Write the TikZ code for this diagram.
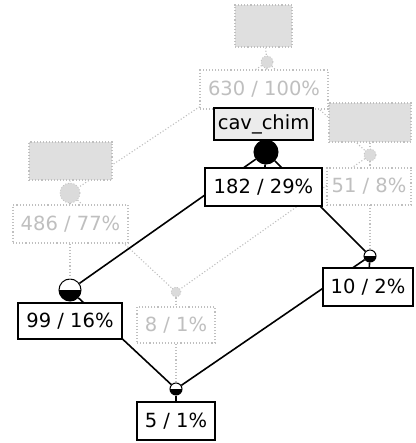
\documentclass[tikz,border=0pt]{standalone}
\usepackage{fontspec}
\setmainfont{DejaVu Sans}
\usepackage{tikz}

\begin{document}
\begin{tikzpicture}[x=1pt, y=-1pt,
  extent/.style={draw=black, line width=1.5pt, fill=white, inner sep=0pt, font=\fontsize{19.5}{21}\selectfont},
  faded/.style={draw=gray!50, dotted, line width=1.1pt, fill=white, text=gray!50, inner sep=0pt, font=\fontsize{19.5}{21}\selectfont},
  attrib/.style={draw=gray!50, dotted, line width=1.1pt, fill=gray!25, inner sep=0pt},
  dot/.style={circle, draw=black, line width=1pt, fill=white, inner sep=0pt},
  halfdot/.style={dot, path picture={\fill[black] (path picture bounding box.west) rectangle (path picture bounding box.south east);}},
  fadeddot/.style={circle, draw=gray!50, dotted, line width=0.8pt, fill=gray!28, inner sep=0pt},
  link/.style={black, line width=1.6pt},
  fadedlink/.style={gray!50, dotted, line width=1.1pt}]
\useasboundingbox (0,0) rectangle (415,443);
\node[fadeddot, minimum size=12pt] (topdia) at (267,62) {};
\node[dot, fill=black, minimum size=24pt] (c182) at (266,152) {};
\node[fadeddot, minimum size=20pt] (c486) at (70,193) {};
\node[fadeddot, minimum size=12pt] (c51) at (370,155) {};
\node[halfdot, minimum size=22pt] (c99) at (70,290) {};
\node[fadeddot, minimum size=10pt] (c8) at (176,292) {};
\node[halfdot, minimum size=12pt] (c10) at (370,256) {};
\node[halfdot, minimum size=12pt] (c5) at (176,389) {};
\draw[fadedlink] (topdia) -- (c486);
\draw[fadedlink] (topdia) -- (c182);
\draw[fadedlink] (topdia) -- (c51);
\draw[fadedlink] (c486) -- (c99);
\draw[fadedlink] (c486) -- (c8);
\draw[fadedlink] (c51) -- (c8);
\draw[fadedlink] (c51) -- (c10);
\draw[fadedlink] (c8) -- (c5);
\draw[link] (c182) -- (c99);
\draw[link] (c182) -- (c10);
\draw[link] (c99) -- (c5);
\draw[link] (c10) -- (c5);
\node[attrib, minimum width=57pt, minimum height=42pt] (toplab) at (263.5,26) {};
\node[faded, minimum width=128pt, minimum height=39pt] (n630) at (264,89.5) {630 / 100\%};
\node[draw=black, line width=1.5pt, fill=gray!15, inner sep=0pt, minimum width=99pt, minimum height=32pt, font=\fontsize{19.5}{21}\selectfont] (cav) at (263.5,124) {cav\_chim};
\node[extent, minimum width=117pt, minimum height=38pt] (n182) at (263.5,187) {182 / 29\%};
\node[attrib, minimum width=83pt, minimum height=38pt] (leftlab) at (70.5,161) {};
\node[faded, minimum width=115pt, minimum height=38pt] (n486) at (70.5,224) {486 / 77\%};
\node[attrib, minimum width=82pt, minimum height=39pt] (rightlab) at (370,122.5) {};
\node[faded, minimum width=84pt, minimum height=37pt] (n51) at (369,186.5) {51 / 8\%};
\node[extent, minimum width=104pt, minimum height=36pt] (n99) at (70,321) {99 / 16\%};
\node[faded, minimum width=78pt, minimum height=36pt] (n8) at (176,325) {8 / 1\%};
\node[extent, minimum width=90pt, minimum height=38pt] (n10) at (368,287) {10 / 2\%};
\node[extent, minimum width=78pt, minimum height=38pt] (n5) at (176,421) {5 / 1\%};
\draw[fadedlink] (toplab) -- (topdia);
\draw[fadedlink] (topdia) -- (n630);
\draw[fadedlink] (leftlab) -- (c486);
\draw[fadedlink] (c486) -- (n486);
\draw[fadedlink] (rightlab) -- (c51);
\draw[fadedlink] (c51) -- (n51);
\draw[fadedlink] (c8) -- (n8);
\draw[link] (c182) -- (n182);
\draw[link] (c99) -- (n99);
\draw[link] (c10) -- (n10);
\draw[link] (c5) -- (n5);
\end{tikzpicture}
\end{document}
